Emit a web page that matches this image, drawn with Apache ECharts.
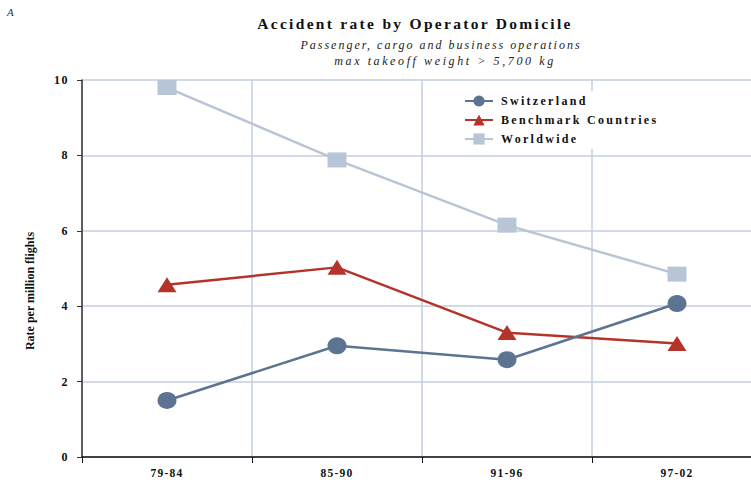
<!DOCTYPE html>
<html><head><meta charset="utf-8">
<script src="https://cdn.jsdelivr.net/npm/echarts@6/dist/echarts.min.js"></script>
<style>html,body{margin:0;padding:0;background:#fff}#c{width:751px;height:484px}</style>
</head><body><div id="c"></div>
<script>
const categories = ['79-84', '85-90', '91-96', '97-02'];
const switzerland = [1.5, 2.95, 2.58, 4.07];
const benchmark = [4.57, 5.03, 3.3, 3.01];
const worldwide = [9.8, 7.88, 6.15, 4.85];
const yTicks = [0, 2, 4, 6, 8, 10];
const titleText = 'Accident rate by Operator Domicile';
const subtitleLines = ['Passenger, cargo and business operations', 'max takeoff weight > 5,700 kg'];
const yName = 'Rate per million flights';

const serif = '"Liberation Serif", "DejaVu Serif", serif';
const chart = echarts.init(document.getElementById('c'), null, { renderer: 'svg' });
chart.setOption({
  animation: false,
  backgroundColor: '#fff',
  graphic: [
    { type: 'text', left: 7, top: 6, style: { text: 'A', font: 'italic 11px ' + serif, fill: '#333' } },
    { type: 'text', x: 415, y: 23, style: { text: titleText, font: 'bold 15.5px ' + serif, fill: '#111', align: 'center', verticalAlign: 'middle' } },
    { type: 'text', x: 441, y: 45, style: { text: subtitleLines[0], font: 'italic 12px ' + serif, fill: '#222', align: 'center', verticalAlign: 'middle' } },
    { type: 'text', x: 445, y: 61, style: { text: subtitleLines[1], font: 'italic 12px ' + serif, fill: '#222', align: 'center', verticalAlign: 'middle' } },
    { type: 'text', x: 30, y: 291, rotation: Math.PI / 2,
      style: { text: yName, font: 'bold 12px ' + serif, fill: '#111', align: 'center', verticalAlign: 'middle' } }
  ],
  legend: {
    left: 456, top: 91, orient: 'vertical',
    backgroundColor: '#fff', padding: [4, 8, 4, 8],
    itemWidth: 28, itemHeight: 14, itemGap: 7,
    textStyle: { fontFamily: serif, fontWeight: 'bold', fontSize: 12, color: '#111', padding: [0, 0, 0, 3] },
    data: ['Switzerland', 'Benchmark Countries', 'Worldwide']
  },
  grid: { left: 82, width: 680, top: 80, bottom: 27, outerBoundsMode: 'none', containLabel: false },
  xAxis: {
    type: 'category', data: categories, boundaryGap: true,
    axisLine: { lineStyle: { color: '#111', width: 1.5 } },
    axisTick: { show: true, length: 6, lineStyle: { color: '#111' } },
    axisLabel: { fontFamily: serif, fontWeight: 'bold', fontSize: 11.5, color: '#111', margin: 10 },
    splitLine: { show: true, lineStyle: { color: '#c3cfdc', width: 1.5 } }
  },
  yAxis: {
    type: 'value', min: yTicks[0], max: yTicks[yTicks.length - 1], interval: 2,
    axisLine: { show: true, lineStyle: { color: '#333', width: 1.5 } },
    axisTick: { show: true, length: 5, lineStyle: { color: '#333' } },
    axisLabel: { fontFamily: serif, fontWeight: 'bold', fontSize: 12, color: '#111', margin: 13 },
    splitLine: { show: true, lineStyle: { color: '#c3cfdc', width: 1.5 } }
  },
  series: [
    { name: 'Worldwide', type: 'line', data: worldwide, symbol: 'rect', symbolSize: [19, 15],
      lineStyle: { color: '#b8c5d7', width: 2.5 }, itemStyle: { color: '#b8c5d7' }, z: 2 },
    { name: 'Benchmark Countries', type: 'line', data: benchmark, symbol: 'triangle', symbolSize: [19, 15],
      lineStyle: { color: '#b5342a', width: 2.5 }, itemStyle: { color: '#b5342a' }, z: 3 },
    { name: 'Switzerland', type: 'line', data: switzerland, symbol: 'circle', symbolSize: [19, 17],
      lineStyle: { color: '#5c7491', width: 2.5 }, itemStyle: { color: '#5c7491' }, z: 4 }
  ]
});

// letter spacing as in the original document's typography
const spacing = {};
spacing[titleText] = '2.3px';
spacing[subtitleLines[0]] = '2px';
spacing[subtitleLines[1]] = '2.6px';
['Switzerland', 'Benchmark Countries', 'Worldwide'].forEach(t => spacing[t] = '2.3px');
categories.forEach(t => spacing[t] = '1.2px');
yTicks.forEach(t => spacing[String(t)] = '1.5px');
document.querySelectorAll('#c svg text').forEach(el => {
  const s = spacing[el.textContent];
  if (s) el.style.letterSpacing = s;
});
</script></body></html>
